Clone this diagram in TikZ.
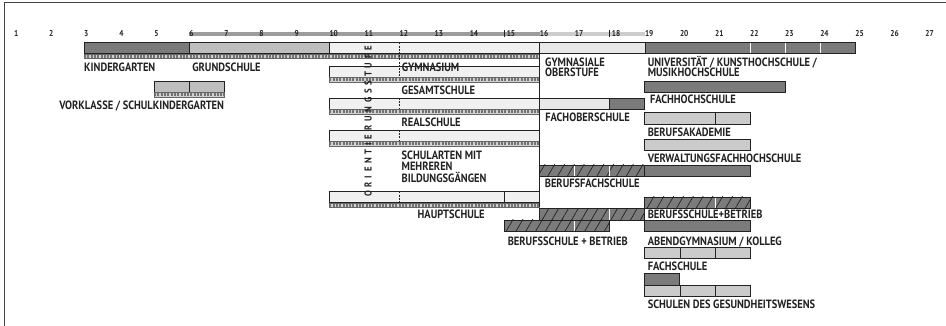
\documentclass[tikz,border=0pt]{standalone}
\usepackage{fontspec}
\setmainfont{PT Sans}[FakeStretch=0.87]
\usetikzlibrary{patterns.meta}
\definecolor{cdark}{HTML}{7B7B7B}
\definecolor{cmid}{HTML}{BEBEBE}
\definecolor{cmidb}{HTML}{CBCBCB}
\definecolor{clight}{HTML}{F0F0F0}
\definecolor{cpale}{HTML}{E8E8E8}
\definecolor{cbar}{HTML}{9C9C9C}
\definecolor{cbarl}{HTML}{CDCDCD}
\definecolor{ink}{HTML}{222222}
\tikzset{
  outl/.style={draw=ink, line width=0.8pt},
  lbl/.style={anchor=base west, inner sep=0pt, text=ink, font=\bfseries\fontsize{12}{12}\selectfont},
  num/.style={anchor=base west, inner sep=0pt, text=ink, font=\bfseries\fontsize{8.5}{8.5}\selectfont},
  dashdiv/.style={draw=ink, line width=0.6pt, dash pattern=on 2pt off 1.2pt},
  wdiv/.style={draw=white, line width=0.8pt},
  sdiv/.style={draw=ink, line width=0.6pt},
  hatchfill/.style={pattern={Lines[angle=60,distance=8.5pt,line width=0.7pt]}, pattern color=ink},
}
% x1 x2 ytop : ruler strip below a box
\newcommand{\mystrip}[3]{%
  \fill[black!18] (#1,#3) rectangle (#2,#3+4.5);
  \draw[black!55, line width=3.5pt, dash pattern=on 2pt off 1.3pt] (#1,#3+2.25) -- (#2,#3+2.25);
  \draw[black!60, line width=0.5pt] (#1,#3) rectangle (#2,#3+4.5);}
% x1 x2 ytop ybot : hatched box fill
\newcommand{\myhatch}[4]{%
  \fill[cdark] (#1,#3) rectangle (#2,#4);
  \fill[hatchfill] (#1,#3) rectangle (#2,#4);}
\begin{document}
\begin{tikzpicture}[x=35.05pt, y=-1pt]
\path[use as bounding box] (0.6034,0) rectangle (27.5934,326);
% frame
\draw[ink!85, line width=1.2pt] (0.728,326) -- (0.728,2.8) -- (27.6,2.8);
% top scale bar
\fill[cbar] (6,32.3) rectangle (16,36);
\fill[cbarl] (16,32.3) rectangle (19,36);
\draw[ink, line width=1.3pt] (15,30) -- (15,37.5);
\draw[ink, line width=1.3pt] (18,30) -- (18,37.5);
\foreach \n in {1,...,14,16,17,19,20,...,27} {\node[num] (n\n) at (\n,36.5) {\n};}
\node[num, xshift=2pt] (n15) at (15,36.5) {15};
\node[num, xshift=2pt] (n18) at (18,36.5) {18};

% ---- row A ----
\fill[cdark] (3,42.5) rectangle (6,53.8);
\fill[cmid] (6,42.5) rectangle (10,53.8);
\fill[clight] (10,42.5) rectangle (16,53.8);
\fill[cpale] (16,42.5) rectangle (19,53.8);
\fill[cdark] (19,42.5) rectangle (25,53.8);
\foreach \v in {22,23,24} {\draw[wdiv] (\v,42.5) -- (\v,53.8);}
\foreach \v in {6,10,16,19} {\draw[sdiv] (\v,42.5) -- (\v,53.8);}
\draw[outl] (3,42.5) rectangle (25,53.8);
\mystrip{3}{16}{53.8}

% ---- rows in the 10-16 column ----
\foreach \t in {66,98,130,191.5} {
  \fill[clight] (10,\t) rectangle (16,\t+11.3);
  \draw[outl] (10,\t) rectangle (16,\t+11.3);
  \mystrip{10}{16}{\t+11.3}
}
\draw[dashdiv] (12,42.5) -- (12,77.3);
\foreach \t in {98,130,191.5} {\draw[dashdiv] (12,\t) -- (12,\t+11.3);}
\draw[sdiv] (15,191.5) -- (15,202.8);
% Fachoberschule
\fill[cpale] (16,98) rectangle (18,109.3);
\fill[cdark] (18,98) rectangle (19,109.3);
\draw[sdiv] (18,98) -- (18,109.3);
\draw[outl] (16,98) rectangle (19,109.3);
% long line at 16
\draw[outl] (16,42.5) -- (16,207.3);

% Vorklasse
\fill[cmid] (5,81) rectangle (7,92.3);
\draw[sdiv] (6,81) -- (6,92.3);
\draw[outl] (5,81) rectangle (7,92.3);
\mystrip{5}{7}{92.3}

% Fachhochschule
\fill[cdark] (19,81) rectangle (23,92);
\draw[outl] (19,81) rectangle (23,92);
% Berufsakademie
\fill[cmidb] (19,112.5) rectangle (22,124);
\draw[sdiv] (21,112.5) -- (21,124);
\draw[outl] (19,112.5) rectangle (22,124);
% Verwaltungsfachhochschule
\fill[cmidb] (19,139) rectangle (22,150.5);
\draw[outl] (19,139) rectangle (22,150.5);
% Berufsfachschule
\myhatch{16}{19}{165}{176.5}
\foreach \v in {17,18} {\draw[wdiv] (\v,165) -- (\v,176.5);}
\draw[outl] (16,165) rectangle (19,176.5);
\fill[cdark] (19,165) rectangle (22,176.5);
\draw[outl] (19,165) rectangle (22,176.5);
% Berufsschule + Betrieb (right)
\myhatch{19}{22}{197}{208.5}
\draw[wdiv] (21,197) -- (21,208.5);
\draw[outl] (19,197) rectangle (22,208.5);
% Berufsschule + Betrieb (middle)
\myhatch{16}{19}{208.5}{220}
\draw[wdiv] (18,208.5) -- (18,220);
\draw[outl] (16,208.5) rectangle (19,220);
\myhatch{15}{18}{220}{231.5}
\draw[wdiv] (17,220) -- (17,231.5);
\draw[outl] (15,220) rectangle (18,231.5);
% Abendgymnasium
\fill[cdark] (19,220) rectangle (22,231.5);
\draw[outl] (19,220) rectangle (22,231.5);
% Fachschule
\fill[cmidb] (19,247) rectangle (22,258.5);
\foreach \v in {20,21} {\draw[sdiv] (\v,247) -- (\v,258.5);}
\draw[outl] (19,247) rectangle (22,258.5);
% Schulen des Gesundheitswesens
\fill[cdark] (19,273.5) rectangle (20,285);
\draw[outl] (19,273.5) rectangle (20,285);
\fill[cmidb] (19,285) rectangle (22,296.5);
\foreach \v in {20,21} {\draw[sdiv] (\v,285) -- (\v,296.5);}
\draw[outl] (19,285) rectangle (22,296.5);

% Orientierungsstufe
\node[rotate=90, inner sep=0pt, text=ink, font=\bfseries\fontsize{10}{10}\selectfont\addfontfeature{LetterSpace=38}] (orient) at (11.103,121.5) {ORIENTIERUNGSSTUFE};

% ---- labels ----
\node[lbl] (kg) at (3,71.5) {KINDERGARTEN};
\node[lbl, xshift=3pt] (gs) at (6,71.5) {GRUNDSCHULE};
\node[lbl, xshift=2.2pt] (gym) at (12,71.5) {GYMNASIUM};
\node[lbl, xshift=5.3pt] (gos1) at (16,66.8) {GYMNASIALE};
\node[lbl, xshift=5.3pt] (gos2) at (16,77) {OBERSTUFE};
\node[lbl, xshift=2.8pt] (uni1) at (19,66.8) {UNIVERSITÄT / KUNSTHOCHSCHULE /};
\node[lbl, xshift=2.8pt] (uni2) at (19,77) {MUSIKHOCHSCHULE};
\node[lbl, xshift=2pt] (ges) at (12,95) {GESAMTSCHULE};
\node[lbl, anchor=base east] (vk) at (7,110) {VORKLASSE / SCHULKINDERGARTEN};
\node[lbl, xshift=5pt] (fh) at (19,104) {FACHHOCHSCHULE};
\node[lbl, xshift=2pt] (rs) at (12,127) {REALSCHULE};
\node[lbl, xshift=5.5pt] (fos) at (16,122) {FACHOBERSCHULE};
\node[lbl, xshift=2.8pt] (ba) at (19,136.7) {BERUFSAKADEMIE};
\node[lbl, xshift=2.8pt] (vfh) at (19,162.5) {VERWALTUNGSFACHHOCHSCHULE};
\node[lbl, xshift=2pt] (sm1) at (12,160) {SCHULARTEN MIT};
\node[lbl, xshift=2pt] (sm2) at (12,171) {MEHREREN};
\node[lbl, xshift=2pt] (sm3) at (12,183) {BILDUNGSGÄNGEN};
\node[lbl, xshift=5pt] (bfs) at (16,187.3) {BERUFSFACHSCHULE};
\node[lbl, xshift=18pt] (hs) at (12,218.3) {HAUPTSCHULE};
\node[lbl, xshift=2.8pt] (bsb2) at (19,218.3) {BERUFSSCHULE+BETRIEB};
\node[lbl, xshift=3pt] (bsb1) at (15,245) {BERUFSSCHULE + BETRIEB};
\node[lbl, xshift=2.8pt] (abg) at (19,245) {ABENDGYMNASIUM / KOLLEG};
\node[lbl, xshift=2.8pt] (fs) at (19,270) {FACHSCHULE};
\node[lbl, xshift=2.8pt] (sgw) at (19,308) {SCHULEN DES GESUNDHEITSWESENS};
\end{tikzpicture}
\end{document}
